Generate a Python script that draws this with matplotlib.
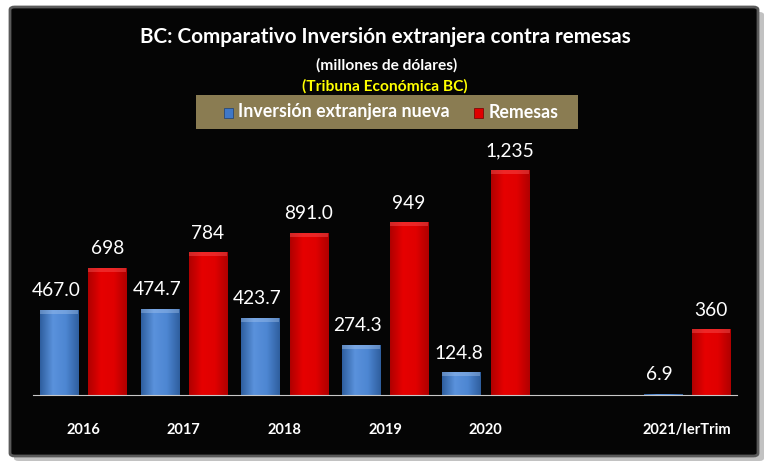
import numpy as np
import matplotlib.pyplot as plt
from matplotlib.patches import FancyBboxPatch, Rectangle
from matplotlib.colors import LinearSegmentedColormap

categories = ['2016', '2017', '2018', '2019', '2020', '', '2021/IerTrim']
inversion = [467.0, 474.7, 423.7, 274.3, 124.8, None, 6.9]
remesas = [698, 784, 891.0, 949, 1235, None, 360]
inv_labels = ['467.0', '474.7', '423.7', '274.3', '124.8', '', '6.9']
rem_labels = ['698', '784', '891.0', '949', '1,235', '', '360']

plt.rcParams['font.family'] = ['Lato', 'DejaVu Sans']

fig = plt.figure(figsize=(7.7, 4.7), dpi=100)
fig.patch.set_facecolor('white')

# shadow + black panel
W, H = 770, 470
def fx(px):
    return px / W
def fy(py):
    return 1 - py / H

shadow = FancyBboxPatch((fx(14), fy(461)), fx(750), (461 - 12) / H,
                        boxstyle='round,pad=0,rounding_size=0.006',
                        transform=fig.transFigure, facecolor='#9a9a9a',
                        edgecolor='none', alpha=0.6, zorder=0)
fig.patches.append(shadow)
panel = FancyBboxPatch((fx(10), fy(456)), fx(748), (456 - 7) / H,
                       boxstyle='round,pad=0,rounding_size=0.006',
                       transform=fig.transFigure, facecolor='#050505',
                       edgecolor='#5a5a5a', linewidth=2.0, zorder=1)
fig.patches.append(panel)

ax = fig.add_axes([fx(33), fy(395), fx(737) - fx(33), (395 - 140) / H])
ax.set_facecolor('none')
ax.set_zorder(3)

x = np.arange(len(categories))
w = 0.378
off = 0.24

blue_cmap = LinearSegmentedColormap.from_list('b', ['#2f5f9f', '#5a92dc', '#4d86d2', '#2f5f9f'])
red_cmap = LinearSegmentedColormap.from_list('r', ['#b00000', '#e60000', '#e00000', '#b00000'])

grad = np.linspace(0, 1, 64).reshape(1, -1)

def draw_bars(xs, vals, cmap, edge):
    for xi, v in zip(xs, vals):
        if v is None:
            continue
        r = Rectangle((xi - w / 2, 0), w, v, facecolor='none', edgecolor='none')
        ax.add_patch(r)
        im = ax.imshow(grad, cmap=cmap, aspect='auto',
                       extent=(xi - w / 2, xi + w / 2, 0, v), zorder=2)
        im.set_clip_path(r)
        # bevel top
        top = min(22, v * 0.3)
        ax.add_patch(Rectangle((xi - w / 2, v - top), w, top,
                               facecolor=edge, edgecolor='none', alpha=0.4, zorder=2.5))

draw_bars(x - off, inversion, blue_cmap, '#a9c8f0')
draw_bars(x + off, remesas, red_cmap, '#ff6060')

for xi, v, lab in zip(x - off, inversion, inv_labels):
    if v is not None:
        ax.text(xi - 0.03, v + 58, lab, ha='center', va='bottom', color='white', fontsize=13.8)
for xi, v, lab in zip(x + off, remesas, rem_labels):
    if v is not None:
        ax.text(xi, v + 58, lab, ha='center', va='bottom', color='white', fontsize=13.8)

ax.set_xlim(-0.5, len(categories) - 0.5)
ax.set_ylim(0, 1400)
ax.set_xticks(x)
ax.set_xticklabels(categories, color='white', fontsize=10.5, fontweight='bold')
ax.tick_params(axis='x', length=0, pad=20)
ax.set_yticks([])
for s in ['top', 'right', 'left']:
    ax.spines[s].set_visible(False)
ax.spines['bottom'].set_color('#c8c8c8')
ax.spines['bottom'].set_linewidth(0.8)
ax.spines['bottom'].set_zorder(4)

# titles
fig.text(fx(385), fy(37), 'BC: Comparativo Inversión extranjera contra remesas',
         ha='center', va='center', color='white', fontsize=14.9, fontweight='bold', zorder=5)
fig.text(fx(387), fy(65), '(millones de dólares)', ha='center', va='center',
         color='white', fontsize=11.2, fontweight='bold', zorder=5)
fig.text(fx(385), fy(86), '(Tribuna Económica BC)', ha='center', va='center',
         color='#ffff00', fontsize=11.2, fontweight='bold', zorder=5)

# legend box
lg = Rectangle((fx(196), fy(129)), fx(578) - fx(196), (129 - 95) / H,
               transform=fig.transFigure, facecolor='#8a7c52', edgecolor='none', zorder=5)
fig.patches.append(lg)
fig.patches.append(Rectangle((fx(224), fy(118)), fx(9), 10 / H, transform=fig.transFigure,
                             facecolor='#3f78c8', edgecolor='#1f3f6f', linewidth=0.5, zorder=6))
fig.text(fx(238), fy(112), 'Inversión extranjera nueva', ha='left', va='center',
         color='white', fontsize=12.8, fontweight='bold', zorder=6)
fig.patches.append(Rectangle((fx(474), fy(118)), fx(9), 10 / H, transform=fig.transFigure,
                             facecolor='#e00000', edgecolor='#700000', linewidth=0.5, zorder=6))
fig.text(fx(489), fy(112), 'Remesas', ha='left', va='center',
         color='white', fontsize=12.8, fontweight='bold', zorder=6)

fig.savefig('out.png', dpi=100, facecolor=fig.get_facecolor())
